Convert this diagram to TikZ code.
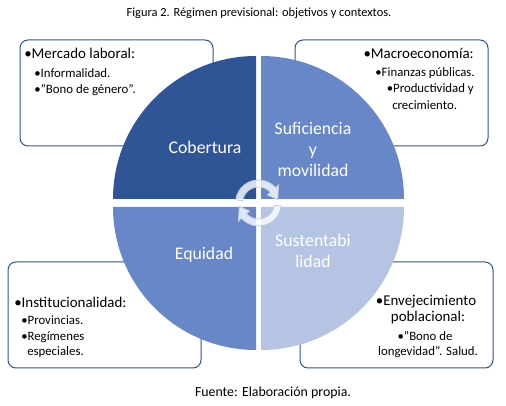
\documentclass[tikz,border=0pt]{standalone}
\usepackage{fontspec}
\setmainfont{Carlito}
\usetikzlibrary{positioning}
\definecolor{darkquad}{RGB}{47,85,151}
\definecolor{midquad}{RGB}{104,135,201}
\definecolor{lightquad}{RGB}{182,196,227}
\definecolor{boxline}{RGB}{47,82,143}
\definecolor{arrowline}{RGB}{190,202,224}

\begin{document}
\begin{tikzpicture}[x=0.75pt, y=0.75pt,
    ctxbox/.style={draw=boxline, line width=0.75pt, rounded corners=6pt, fill=white},
    quadlabel/.style={text=white, font=\fontsize{13.3}{15.75}\selectfont, align=center, inner sep=0pt},
    maintext/.style={font=\fontsize{11.2}{13}\selectfont, inner sep=0pt},
    subtext/.style={font=\fontsize{9.6}{11}\selectfont, inner sep=0pt},
    cyclearrow/.style={fill=white, fill opacity=0.8, draw=arrowline, line width=0.6pt}]
    \useasboundingbox (0,0) rectangle (506,406);

    % Captions
    \node[font=\fontsize{9.3}{11}\selectfont] (title) at (259,393) {Figura 2. Régimen previsional: objetivos y contextos.};
    \node[font=\fontsize{10.4}{12}\selectfont] (source) at (273,13) {Fuente: Elaboración propia.};

    % Context boxes
    \draw[ctxbox] (20,260) rectangle (213,366);
    \draw[ctxbox] (295,260) rectangle (488,366);
    \draw[ctxbox] (8,38) rectangle (201,144);
    \draw[ctxbox] (300,38) rectangle (493,144);

    % Quadrants
    \fill[darkquad] (256,207) -- (113,207) arc[start angle=180, end angle=90, radius=143] -- cycle;
    \fill[midquad] (261,207) -- (261,350) arc[start angle=90, end angle=0, radius=143] -- cycle;
    \fill[midquad] (256,199) -- (256,56) arc[start angle=270, end angle=180, radius=143] -- cycle;
    \fill[lightquad] (261,199) -- (404,199) arc[start angle=0, end angle=-90, radius=143] -- cycle;

    \node[quadlabel] (cobertura) at (205,259) {Cobertura};
    \node[quadlabel] (suficiencia) at (313,257) {Suficiencia\\y\\movilidad};
    \node[quadlabel] (equidad) at (204,151) {Equidad};
    \node[quadlabel] (sustentab) at (313,155) {Sustentabi\\lidad};

    % Cycle arrows
    \foreach \rot in {0,180}
        \filldraw[cyclearrow, shift={(258.5,203)}, rotate=\rot]
            (172:23) arc[start angle=172, end angle=42, radius=23] -- (42:27)
            -- (10:19.5) -- (42:12) -- (42:16) arc[start angle=42, end angle=172, radius=16] -- cycle;

    % Box texts
    \node[maintext, anchor=west] (mercado) at (24,353) {•Mercado laboral:};
    \node[subtext, anchor=west] (informal) at (34,333) {•Informalidad.};
    \node[subtext, anchor=west] (bonogen) at (34,316) {•"Bono de género".};

    \node[maintext, anchor=east] (macro) at (474,353) {•Macroeconomía:};
    \node[subtext, anchor=east] (finanzas) at (475,333) {•Finanzas públicas.};
    \node[subtext, anchor=east] (producto) at (474,317) {•Productividad y};
    \node[subtext, anchor=west] (crecim) at (392,301) {crecimiento.};

    \node[maintext, anchor=west] (instit) at (14,104) {•Institucionalidad:};
    \node[subtext, anchor=west] (provin) at (21,86) {•Provincias.};
    \node[subtext, anchor=west] (regimen) at (21,69) {•Regímenes};
    \node[subtext, anchor=west] (especial) at (27,54) {especiales.};

    \node[maintext] (envejec) at (426,104) {•Envejecimiento};
    \node[maintext] (poblac) at (428,88) {poblacional:};
    \node[subtext] (bonolong) at (425,70) {•"Bono de};
    \node[subtext] (longev) at (428,54) {longevidad". Salud.};
\end{tikzpicture}
\end{document}
